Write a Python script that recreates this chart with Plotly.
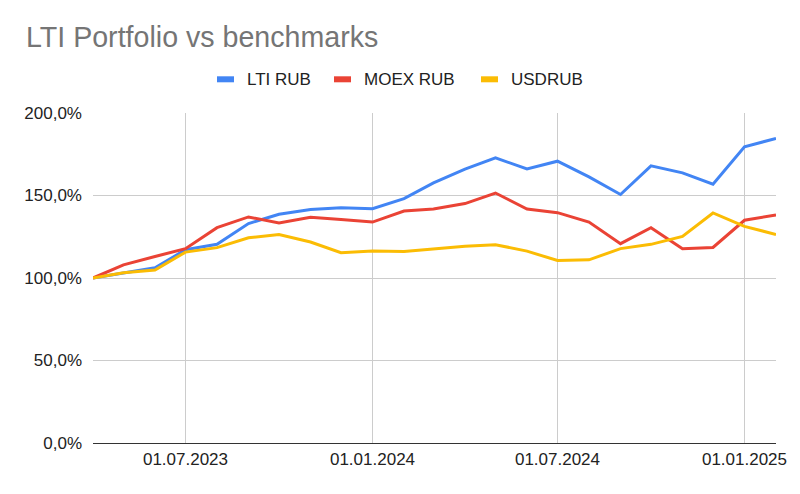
import plotly.graph_objects as go

dates = [
    "2023-04-01", "2023-05-01", "2023-06-01", "2023-07-01", "2023-08-01", "2023-09-01",
    "2023-10-01", "2023-11-01", "2023-12-01", "2024-01-01", "2024-02-01", "2024-03-01",
    "2024-04-01", "2024-05-01", "2024-06-01", "2024-07-01", "2024-08-01", "2024-09-01",
    "2024-10-01", "2024-11-01", "2024-12-01", "2025-01-01", "2025-02-01",
]
lti_rub = [1.000, 1.030, 1.062, 1.171, 1.204, 1.330, 1.386, 1.415, 1.426, 1.420, 1.481, 1.576,
           1.660, 1.728, 1.661, 1.708, 1.613, 1.506, 1.680, 1.637, 1.568, 1.795, 1.846]
moex_rub = [1.000, 1.080, 1.130, 1.178, 1.305, 1.370, 1.333, 1.368, 1.354, 1.339, 1.406, 1.418,
            1.451, 1.515, 1.418, 1.396, 1.339, 1.208, 1.305, 1.178, 1.185, 1.350, 1.382]
usdrub = [1.000, 1.032, 1.048, 1.157, 1.184, 1.244, 1.264, 1.218, 1.153, 1.163, 1.161, 1.177,
          1.193, 1.202, 1.163, 1.106, 1.110, 1.178, 1.204, 1.252, 1.394, 1.313, 1.264]

series_names = ["LTI RUB", "MOEX RUB", "USDRUB"]
series_colors = ["#4285F4", "#EA4335", "#FBBC04"]

x_tick_vals = ["2023-07-01", "2024-01-01", "2024-07-01", "2025-01-01"]
x_tick_text = ["01.07.2023", "01.01.2024", "01.07.2024", "01.01.2025"]

title_text = "LTI Portfolio vs benchmarks"

FONT = "Liberation Sans, Arial, sans-serif"

fig = go.Figure()
for name, vals, col in zip(series_names, [lti_rub, moex_rub, usdrub], series_colors):
    fig.add_trace(go.Scatter(
        x=dates, y=vals, name=name, mode="lines",
        line=dict(color=col, width=3), showlegend=False,
    ))

W, H = 800, 494
ml, mr, mt, mb = 93, 24, 113, 51
pw = W - ml - mr
ph = H - mt - mb
bottom_px = H - mb


def px_x(p):
    return (p - ml) / pw


def px_y(p):
    return (bottom_px - p) / ph


# legend drawn as colour bars plus text labels (centred row above the plot)
legend_icon_left = [217, 334, 481]
legend_y = 79.3
shapes = []
annotations = []
for name, col, lx in zip(series_names, series_colors, legend_icon_left):
    shapes.append(dict(
        type="rect", xref="paper", yref="paper",
        x0=px_x(lx), x1=px_x(lx + 17), y0=px_y(legend_y + 3), y1=px_y(legend_y - 3),
        fillcolor=col, line=dict(width=0), layer="above",
    ))
    annotations.append(dict(
        text=name, xref="paper", yref="paper", x=px_x(lx + 28), y=px_y(legend_y),
        xanchor="left", yanchor="middle", showarrow=False,
        font=dict(family=FONT, size=17, color="#222222"),
    ))

fig.update_layout(
    width=W, height=H,
    margin=dict(l=ml, r=mr, t=mt, b=mb, pad=0),
    paper_bgcolor="white", plot_bgcolor="white",
    separators=",.",
    font=dict(family=FONT, size=17, color="#222222"),
    title=dict(
        text=title_text, x=26 / W, xref="container", xanchor="left",
        y=1 - 37 / H, yref="container", yanchor="middle",
        font=dict(family=FONT, size=28.6, color="#757575"),
    ),
    shapes=shapes,
    annotations=annotations,
    showlegend=False,
)

fig.update_xaxes(
    type="date", range=["2023-04-01", "2025-02-01"],
    tickvals=x_tick_vals, ticktext=x_tick_text,
    showgrid=True, gridcolor="#cccccc", gridwidth=1,
    showline=True, linecolor="#333333", linewidth=1.3,
    ticks="", ticklabelstandoff=0,
    tickfont=dict(family=FONT, size=17, color="#222222"),
)
fig.update_yaxes(
    range=[0, 2.0], dtick=0.5, tick0=0, tickformat=".1%",
    showgrid=True, gridcolor="#cccccc", gridwidth=1,
    zeroline=False, showline=False,
    ticks="", ticklabelstandoff=10,
    tickfont=dict(family=FONT, size=17, color="#222222"),
)

fig.write_html("out.html")
